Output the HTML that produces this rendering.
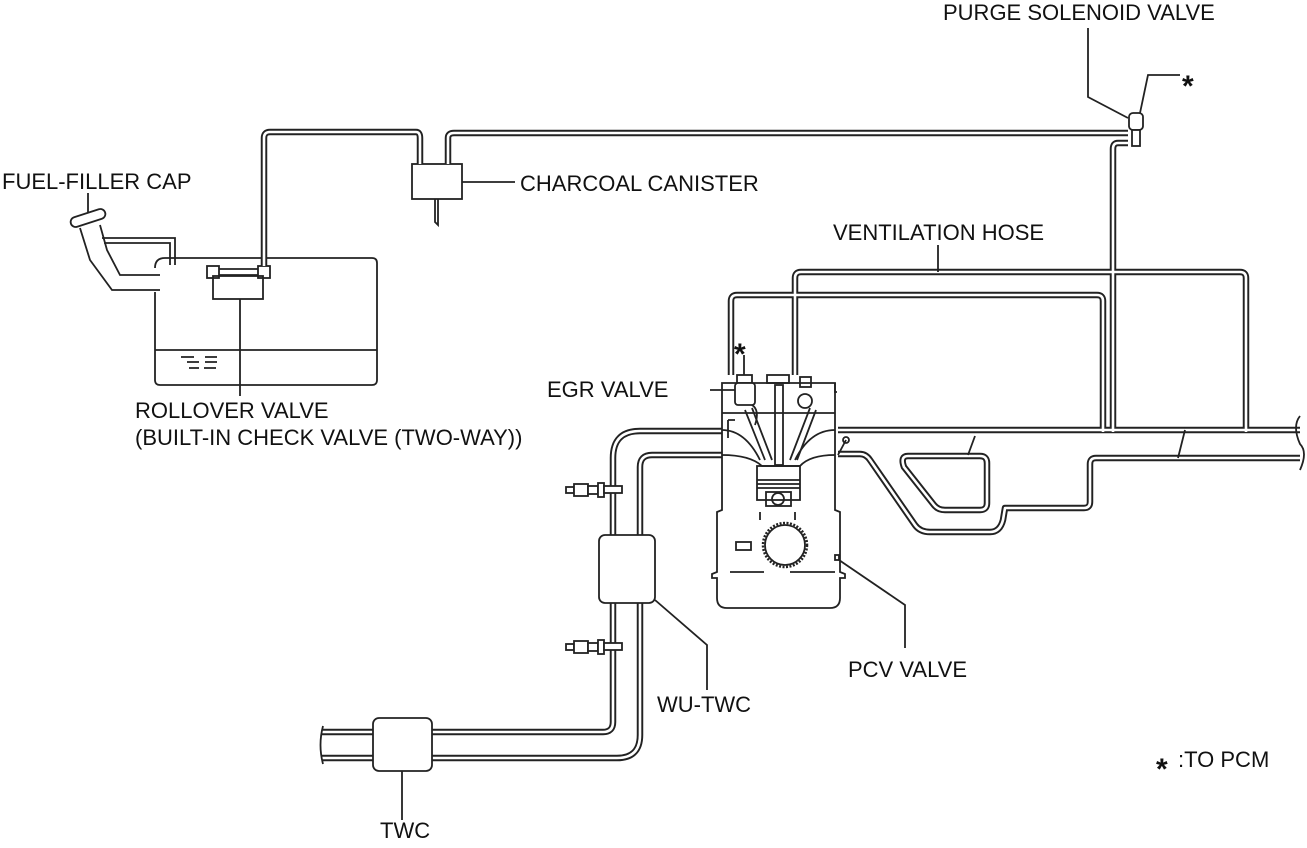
<!DOCTYPE html>
<html><head><meta charset="utf-8"><style>
html,body{margin:0;padding:0;background:#fff}
svg text{font-family:"Liberation Sans",sans-serif;font-size:22px;fill:#111}
</style></head><body>
<svg width="1307" height="843" viewBox="0 0 1307 843" xmlns="http://www.w3.org/2000/svg">
<g fill="none" stroke="#222" stroke-width="1.8">
<path d="M155 268 Q155 258 165 258 L372 258 Q377 258 377 263 L377 380 Q377 385 372 385 L160 385 Q155 385 155 380 L155 292"/>
<line x1="155" y1="350" x2="377" y2="350"/>
<path d="M181 357h13M187 362h12M205 357h12M189 368h10M205 362h12M204 368h12"/>
<path d="M100 225 L107 250 L120 275 L160 275"/>
<path d="M80 228 L90 260 L112 290 L160 290"/>
<path d="M102 238 L175 238 L175 265 M104 243 L170 243 L170 265"/>
<rect x="70" y="213" width="36" height="10" rx="5" transform="rotate(-18 88 218)"/>
<line x1="88" y1="193" x2="88" y2="212"/>
<rect x="213" y="276" width="50" height="23"/>
<rect x="207" y="266" width="12" height="12"/>
<rect x="258" y="266" width="12" height="12"/>
<path d="M219 269h39M219 275h39"/>
<line x1="240" y1="299" x2="240" y2="396"/>
<rect x="412" y="164" width="50" height="35"/>
<line x1="462" y1="182" x2="515" y2="182"/>
<path d="M435 199 L435 222 L438 225 L438 199"/>
</g>
<g fill="none" stroke-linejoin="round">
<g stroke="#222" stroke-width="6.5">
<path d="M264 266 L264 138 Q264 132 270 132 L416 132 Q420 132 420 138 L420 164"/>
<path d="M448 164 L448 138 Q448 133 454 133 L1128 133"/>
<path d="M1128 143 L1118 143 Q1113 143 1113 149 L1113 430"/>
<path d="M795 375 L795 278 Q795 272 801 272 L1240 272 Q1246 272 1246 278 L1246 430"/>
<path d="M731 375 L731 301 Q731 295 737 295 L1097 295 Q1103 295 1103 301 L1103 430"/>
<path d="M722 431 L640 431 Q613 431 613 458 L613 722 Q613 732 603 732 L322 732"/>
<path d="M722 455 L652 455 Q640 455 640 467 L640 735 Q640 758 617 758 L322 758"/>
<path d="M838 430 L1300 430"/>
<path d="M838 454 L860 454 Q866 454 870 460 L915 525 Q920 532 930 532 L990 532 Q1000 532 1003 520 L1005 508 L1084 508 Q1090 508 1090 502 L1090 464 Q1090 458 1096 458 L1300 458"/>
<path d="M908 456 L980 456 Q987 456 987 463 L987 503 Q987 510 980 510 L945 510 Q938 510 934 505 L904 467 Q900 456 908 456"/>
</g>
<g stroke="#fff" stroke-width="2.6">
<path d="M264 266 L264 138 Q264 132 270 132 L416 132 Q420 132 420 138 L420 164"/>
<path d="M448 164 L448 138 Q448 133 454 133 L1128 133"/>
<path d="M1128 143 L1118 143 Q1113 143 1113 149 L1113 432"/>
<path d="M795 375 L795 278 Q795 272 801 272 L1240 272 Q1246 272 1246 278 L1246 432"/>
<path d="M731 375 L731 301 Q731 295 737 295 L1097 295 Q1103 295 1103 301 L1103 432"/>
<path d="M722 431 L640 431 Q613 431 613 458 L613 722 Q613 732 603 732 L322 732"/>
<path d="M722 455 L652 455 Q640 455 640 467 L640 735 Q640 758 617 758 L322 758"/>
<path d="M838 430 L1300 430"/>
<path d="M838 454 L860 454 Q866 454 870 460 L915 525 Q920 532 930 532 L990 532 Q1000 532 1003 520 L1005 508 L1084 508 Q1090 508 1090 502 L1090 464 Q1090 458 1096 458 L1300 458"/>
<path d="M908 456 L980 456 Q987 456 987 463 L987 503 Q987 510 980 510 L945 510 Q938 510 934 505 L904 467 Q900 456 908 456"/>
</g>
</g>
<g fill="none" stroke="#222" stroke-width="1.8">
<path d="M1300 416 Q1292 426 1300 444 Q1308 452 1300 470"/>
<path d="M323 726 Q318 745 323 764"/>
<rect x="1129" y="113" width="14" height="17" rx="4" fill="#fff"/>
<rect x="1132" y="130" width="8" height="16" fill="#fff"/>
<path d="M1088 28 L1088 97 L1128 118"/>
<path d="M1140 113 L1148 75 L1180 75"/>
<rect x="373" y="718" width="59" height="53" rx="6" fill="#fff"/>
<line x1="402" y1="771" x2="402" y2="820"/>
<rect x="599" y="535" width="56" height="68" rx="6" fill="#fff"/>
<path d="M655 600 L707 645 L707 690"/>
<g fill="#fff">
<rect x="566" y="487" width="8" height="6"/><rect x="574" y="484" width="14" height="12"/><rect x="588" y="486" width="10" height="8"/><rect x="598" y="483" width="6" height="14"/><rect x="604" y="486" width="18" height="7"/>
<rect x="566" y="644" width="8" height="6"/><rect x="574" y="641" width="14" height="12"/><rect x="588" y="643" width="10" height="8"/><rect x="598" y="640" width="6" height="14"/><rect x="604" y="643" width="18" height="7"/>
</g>
<path d="M722 383 L835 383 L835 510 L840 512 L840 572 L845 574 L845 578 L840 578 L840 598 Q840 608 830 608 L727 608 Q717 608 717 598 L717 578 L712 578 L712 574 L717 572 L717 512 L722 510 Z" fill="#fff"/>
<path d="M835 383 L835 392 L837 392"/>
<line x1="722" y1="413" x2="835" y2="413"/>
<path d="M722 430 Q745 430 760 460 M835 430 Q810 430 795 460"/>
<path d="M722 455 Q750 455 762 466 L800 466 Q810 455 835 455"/>
<rect x="757" y="466" width="43" height="34"/>
<path d="M757 480h43M757 484h43M757 488h43"/>
<rect x="766" y="492" width="25" height="14"/><circle cx="778" cy="499" r="6"/>
<path d="M760 512 L760 520 M795 512 L795 520"/>
<circle cx="785" cy="545" r="22" stroke-dasharray="2 1.5" stroke-width="2.5"/>
<circle cx="785" cy="545" r="20"/>
<rect x="736" y="542" width="15" height="8"/>
<line x1="730" y1="572" x2="764" y2="572"/><line x1="790" y1="572" x2="835" y2="572"/>
<path d="M745 410 L765 460 M752 408 L772 460 M810 408 L790 460 M816 410 L797 460"/>
<rect x="775" y="385" width="8" height="80"/>
<rect x="767" y="375" width="22" height="8"/>
<rect x="800" y="377" width="11" height="10"/>
<circle cx="805" cy="401" r="7"/>
<rect x="737" y="375" width="15" height="8" fill="#fff"/>
<rect x="735" y="383" width="20" height="22" rx="3" fill="#fff"/>
<path d="M752 405 Q760 410 755 425 M728 420 L728 438 M728 420 L735 420"/>
<line x1="744" y1="375" x2="744" y2="355"/>
<line x1="710" y1="390" x2="735" y2="390"/>
<path d="M838 455 L846 440 M1178 458 L1185 430 M968 455 L975 436"/>
<circle cx="846" cy="440" r="3"/>
<rect x="835" y="555" width="4" height="5" fill="#fff"/>
<path d="M839 560 L905 605 L905 648"/>
<line x1="938" y1="245" x2="938" y2="272"/>
</g>
<g font-weight="bold" fill="#111"><text x="734" y="364" style="font-size:30px">*</text><text x="1182" y="96" style="font-size:30px">*</text><text x="1156" y="779" style="font-size:30px">*</text></g>
<text x="943" y="20">PURGE SOLENOID VALVE</text>
<text x="2" y="189">FUEL-FILLER CAP</text>
<text x="520" y="191">CHARCOAL CANISTER</text>
<text x="833" y="240">VENTILATION HOSE</text>
<text x="547" y="397">EGR VALVE</text>
<text x="135" y="418">ROLLOVER VALVE</text>
<text x="135" y="445">(BUILT-IN CHECK VALVE (TWO-WAY))</text>
<text x="657" y="712">WU-TWC</text>
<text x="848" y="677">PCV VALVE</text>
<text x="380" y="838">TWC</text>
<text x="1178" y="767">:TO PCM</text>
</svg>
</body></html>
